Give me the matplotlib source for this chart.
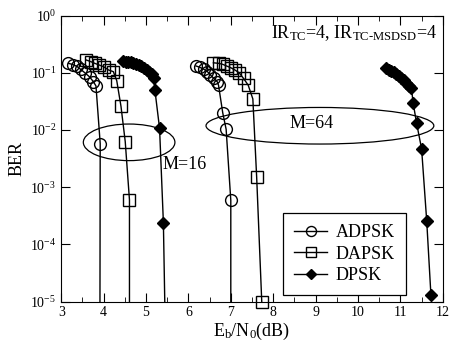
import matplotlib
matplotlib.use('Agg')
import matplotlib.pyplot as plt
from matplotlib.patches import Ellipse
from matplotlib.ticker import MultipleLocator, LogLocator, NullLocator

plt.rcParams['font.family'] = ['Liberation Serif', 'DejaVu Serif']
plt.rcParams['mathtext.fontset'] = 'custom'
plt.rcParams['mathtext.rm'] = 'Liberation Serif'
plt.rcParams['mathtext.it'] = 'Liberation Serif:italic'
plt.rcParams['mathtext.bf'] = 'Liberation Serif:bold'

# M=16
adpsk16_x = [3.17, 3.27, 3.37, 3.46, 3.56, 3.67, 3.76, 3.82, 3.92, 3.91]
adpsk16_y = [0.147, 0.14, 0.13, 0.115, 0.1, 0.085, 0.07, 0.059, 0.0058, 1e-7]
dapsk16_x = [3.59, 3.70, 3.80, 3.90, 4.00, 4.12, 4.23, 4.31, 4.41, 4.51, 4.61, 4.61]
dapsk16_y = [0.168, 0.157, 0.146, 0.137, 0.128, 0.112, 0.105, 0.073, 0.026, 0.0063, 0.0006, 1e-7]
dpsk16_x = [4.45, 4.52, 4.58, 4.64, 4.70, 4.76, 4.83, 4.89, 4.95, 5.02, 5.08, 5.13, 5.18,
            5.21, 5.32, 5.41, 5.49]
dpsk16_y = [0.161, 0.158, 0.155, 0.152, 0.148, 0.143, 0.138, 0.131, 0.123, 0.114, 0.104,
            0.094, 0.082, 0.05, 0.0107, 0.00024, 1e-7]

# M=64
adpsk64_x = [6.18, 6.27, 6.37, 6.45, 6.52, 6.60, 6.68, 6.71, 6.81, 6.89, 7.0, 7.0]
adpsk64_y = [0.132, 0.125, 0.115, 0.105, 0.092, 0.080, 0.070, 0.061, 0.020, 0.0103, 0.00059, 1e-7]
dapsk64_x = [6.59, 6.71, 6.81, 6.90, 7.00, 7.10, 7.20, 7.30, 7.41, 7.52, 7.61, 7.73]
dapsk64_y = [0.15, 0.147, 0.141, 0.132, 0.123, 0.112, 0.10, 0.080, 0.061, 0.035, 0.0015, 1e-5]
dpsk64_x = [10.67, 10.72, 10.78, 10.84, 10.90, 10.96, 11.02, 11.08, 11.14, 11.20, 11.26,
            11.30, 11.38, 11.50, 11.62, 11.72]
dpsk64_y = [0.12, 0.114, 0.108, 0.102, 0.096, 0.089, 0.082, 0.074, 0.067, 0.06, 0.054,
            0.030, 0.0134, 0.0047, 0.00026, 1.3e-5]

fig = plt.figure(figsize=(4.5, 3.49), dpi=100)
ax = fig.add_axes([0.136, 0.136, 0.848, 0.819])

circ = dict(color='black', lw=1.0, marker='o', ms=8.5, mfc='none', mec='black', mew=1.0)
sq = dict(color='black', lw=1.0, marker='s', ms=9, mfc='none', mec='black', mew=1.0)
dia = dict(color='black', lw=1.0, marker='D', ms=6.5, mfc='black', mec='black')

ax.plot(adpsk16_x, adpsk16_y, label='ADPSK', **circ)
ax.plot(dapsk16_x, dapsk16_y, label='DAPSK', **sq)
ax.plot(dpsk16_x, dpsk16_y, label='DPSK', **dia)
ax.plot(adpsk64_x, adpsk64_y, **circ)
ax.plot(dapsk64_x, dapsk64_y, clip_on=False, **sq)
ax.plot(dpsk64_x, dpsk64_y, clip_on=False, **dia)

ax.set_yscale('log')
ax.set_xlim(3, 12)
ax.set_ylim(1e-5, 1)
ax.xaxis.set_major_locator(MultipleLocator(1))
ax.xaxis.set_minor_locator(MultipleLocator(0.5))
ax.yaxis.set_major_locator(LogLocator(base=10, numticks=10))
ax.yaxis.set_minor_locator(NullLocator())
ax.tick_params(which='both', direction='in', top=True, right=True, labelsize=10)
ax.tick_params(which='major', length=6.5)
ax.tick_params(which='minor', length=3.6)

ax.set_xlabel(r'E$_{\rm b}$/N$_{\rm 0}$(dB)', fontsize=13, labelpad=1)
ax.set_ylabel('BER', fontsize=13, labelpad=3)

ax.add_patch(Ellipse((0.178, 0.557), 0.240, 0.128, transform=ax.transAxes,
                     fill=False, ec='black', lw=0.9))
ax.add_patch(Ellipse((0.678, 0.615), 0.597, 0.128, transform=ax.transAxes,
                     fill=False, ec='black', lw=0.9))
ax.text(5.4, 10 ** -2.61, 'M=16', fontsize=13, va='center', ha='left')
ax.text(8.9, 10 ** -1.89, 'M=64', fontsize=13, va='center', ha='center')
ax.text(0.985, 0.94, r'IR$_{\rm TC}$=4, IR$_{\text{TC-MSDSD}}$=4', transform=ax.transAxes,
        fontsize=13, ha='right', va='center')

leg = ax.legend(loc='lower right', bbox_to_anchor=(0.903, 0.023), fontsize=13,
                fancybox=False, framealpha=1, edgecolor='black', handlelength=1.8,
                handletextpad=0.5, borderpad=0.6, labelspacing=0.25, markerscale=0.85,
                borderaxespad=0)
leg.get_frame().set_linewidth(0.9)

fig.savefig('out.png', dpi=100)
